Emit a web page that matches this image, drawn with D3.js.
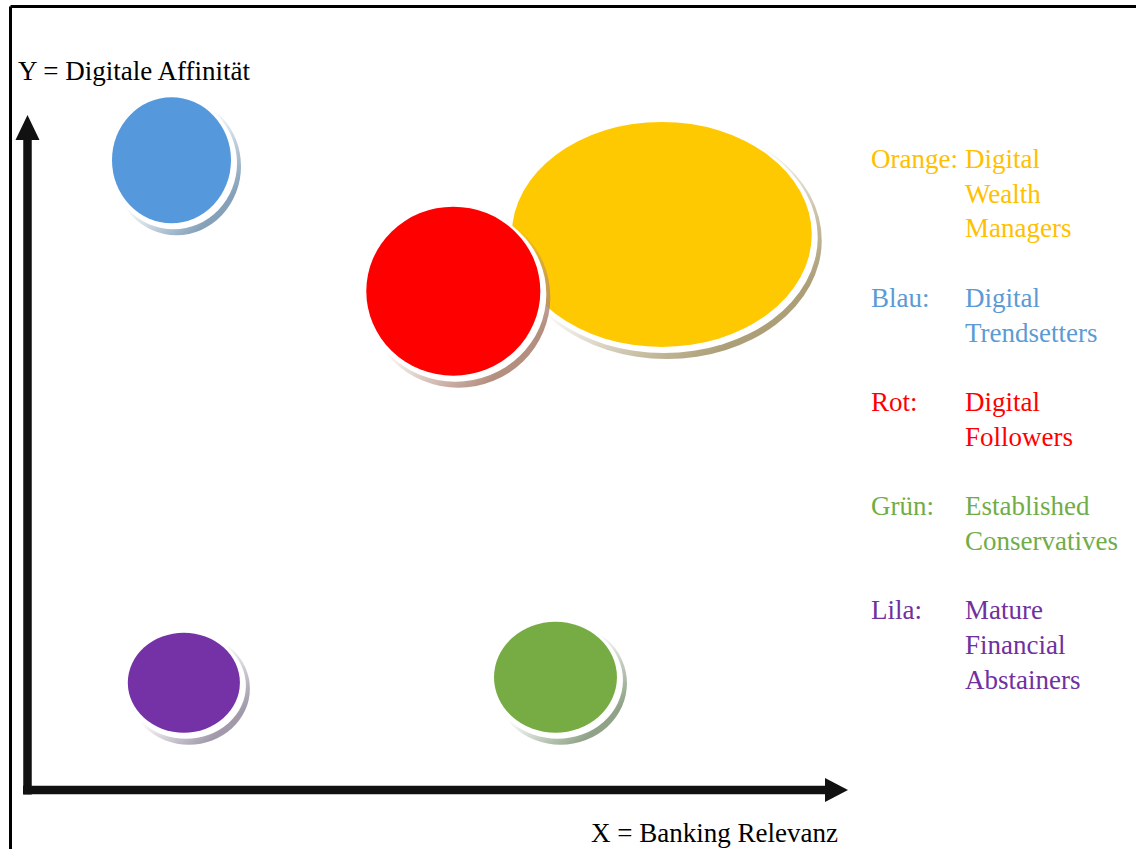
<!DOCTYPE html>
<html><head><meta charset="utf-8">
<script src="https://cdn.jsdelivr.net/npm/d3@7"></script>
<style>html,body{margin:0;padding:0;background:#fff;}svg{display:block;}</style>
</head><body>
<script>
// ---- data ----
const segments = ["Digital Wealth Managers","Digital Followers","Digital Trendsetters","Established Conservatives","Mature Financial Abstainers"];
const bankingRelevanz = [77.4, 52.1, 17.9, 64.5, 19.4];   // x
const digitaleAffinitaet = [82.3, 73.9, 93.3, 16.7, 15.9]; // y
const sizeX = [18.2, 10.56, 7.22, 7.46, 6.8];
const sizeY = [16.67, 12.52, 9.33, 8.22, 7.41];
const fillColors = ["#FFC901", "#FF0000", "#5599DC", "#77AC45", "#7532A6"];
const shadowColors = ["#A89A70", "#B08878", "#7E9CB6", "#8A9E82", "#9C94A6"];

const legendLabels = ["Orange:", "Blau:", "Rot:", "Grün:", "Lila:"];
const legendNames = [["Digital","Wealth","Managers"],["Digital","Trendsetters"],["Digital","Followers"],["Established","Conservatives"],["Mature","Financial","Abstainers"]];
const legendColors = ["#FFC000", "#5B9BD5", "#FF0000", "#70AD47", "#7030A0"];
const yTitle = "Y = Digitale Affinität";
const xTitle = "X = Banking Relevanz";

// ---- chart ----
const W = 1136, H = 849;
const svg = d3.select("body").append("svg").attr("width", W).attr("height", H);
const font = "'Liberation Serif','Times New Roman',serif";
const fs = 27;

const x = d3.scaleLinear().domain([0, 100]).range([24, 848]);
const y = d3.scaleLinear().domain([0, 100]).range([790, 115]);
const kx = x(1) - x(0), ky = y(0) - y(1);

// frame lines (top & left)
svg.append("line").attr("x1", 10.5).attr("y1", 6.5).attr("x2", W).attr("y2", 6.5).attr("stroke", "#000").attr("stroke-width", 3);
svg.append("line").attr("x1", 10.5).attr("y1", 6.5).attr("x2", 10.5).attr("y2", H).attr("stroke", "#000").attr("stroke-width", 3);

const defs = svg.append("defs");
shadowColors.forEach((c, i) => {
  const g = defs.append("linearGradient").attr("id", "sh" + i)
    .attr("x1", 0).attr("y1", 0).attr("x2", 1).attr("y2", 1);
  g.append("stop").attr("offset", 0.45).attr("stop-color", c).attr("stop-opacity", 0);
  g.append("stop").attr("offset", 0.82).attr("stop-color", c).attr("stop-opacity", 0.95);
});

const idx = d3.range(segments.length);
const bubbles = svg.selectAll("g.bubble").data(idx).join("g").attr("class", "bubble");
bubbles.append("ellipse")
  .attr("cx", i => x(bankingRelevanz[i]) + 5).attr("cy", i => y(digitaleAffinitaet[i]) + 6)
  .attr("rx", i => sizeX[i] * kx + 5).attr("ry", i => sizeY[i] * ky + 6)
  .attr("fill", i => `url(#sh${i})`);
bubbles.append("ellipse")
  .attr("cx", i => x(bankingRelevanz[i]) + 2).attr("cy", i => y(digitaleAffinitaet[i]) + 3)
  .attr("rx", i => sizeX[i] * kx + 4).attr("ry", i => sizeY[i] * ky + 3)
  .attr("fill", "#fff");
bubbles.append("ellipse")
  .attr("cx", i => x(bankingRelevanz[i])).attr("cy", i => y(digitaleAffinitaet[i]))
  .attr("rx", i => sizeX[i] * kx).attr("ry", i => sizeY[i] * ky)
  .attr("fill", i => fillColors[i]);

// axes with arrows
const axisW = 8.5;
svg.append("line").attr("x1", x(0) + 3.5).attr("y1", y(0) + 4.5).attr("x2", x(0) + 3.5).attr("y2", 138)
  .attr("stroke", "#111").attr("stroke-width", axisW);
svg.append("line").attr("x1", x(0) - 1).attr("y1", y(0)).attr("x2", 826).attr("y2", y(0))
  .attr("stroke", "#111").attr("stroke-width", axisW);
svg.append("path").attr("d", d3.line()([[15.5, 140], [27.5, 115], [39.5, 140]])).attr("fill", "#111");
svg.append("path").attr("d", d3.line()([[825, 778], [848, 790], [825, 802]])).attr("fill", "#111");

// axis titles
svg.append("text").attr("x", 18).attr("y", 80).attr("font-family", font).attr("font-size", fs).attr("fill", "#000").text(yTitle);
svg.append("text").attr("x", 838).attr("y", 842).attr("text-anchor", "end").attr("font-family", font).attr("font-size", fs).attr("fill", "#000").text(xTitle);

// legend
const lineH = 34.7;
let row = 0;
legendLabels.forEach((lab, i) => {
  const y0 = 168 + row * lineH;
  svg.append("text").attr("x", 871).attr("y", y0).attr("font-family", font).attr("font-size", fs)
    .attr("fill", legendColors[i]).text(lab);
  legendNames[i].forEach((n, j) => {
    svg.append("text").attr("x", 965).attr("y", y0 + j * lineH).attr("font-family", font).attr("font-size", fs)
      .attr("fill", legendColors[i]).text(n);
  });
  row += legendNames[i].length + 1;
});
</script>
</body></html>
